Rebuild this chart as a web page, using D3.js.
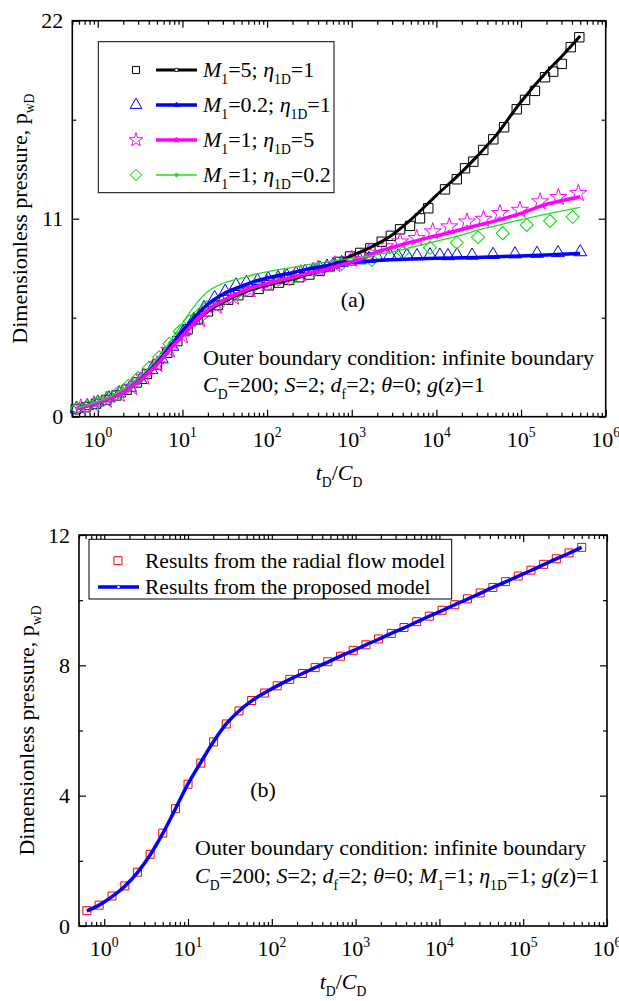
<!DOCTYPE html>
<html>
<head>
<meta charset="utf-8">
<script src="https://cdn.jsdelivr.net/npm/d3@7"></script>
<style>
  body { margin: 0; background: #fff; }
  svg { font-family: "Liberation Serif", "Times New Roman", serif; }
</style>
</head>
<body>
<div id="chart"></div>
<script>
// ---- panel (a): model lines, all on one time grid ----
var lineT = [0.55, 0.7, 1, 1.5, 2, 3, 4, 5, 7, 10, 15, 20, 30, 50, 70, 100, 200, 300, 500, 700,
  1000, 1500, 2000, 3000, 5000, 1e4, 2e4, 3e4, 5e4, 1e5, 2e5, 3e5, 5e5];
var blackLine = [0.42, 0.55, 0.78, 1.08, 1.36, 1.95, 2.45, 2.9, 3.7, 4.5, 5.35, 5.85, 6.35, 6.85, 7.1, 7.3, 7.65, 7.9, 8.3, 8.6,
  8.95, 9.3, 9.6, 10.1, 10.95, 12.3, 13.6, 14.45, 15.6, 17.5, 19.15, 20.0, 21.15];
var blueLine = [0.44, 0.57, 0.8, 1.12, 1.42, 2.02, 2.55, 3.0, 3.85, 4.75, 5.7, 6.25, 6.8, 7.25, 7.5, 7.7, 8.0, 8.2, 8.38, 8.5,
  8.58, 8.64, 8.68, 8.72, 8.76, 8.8, 8.83, 8.85, 8.88, 8.93, 8.98, 9.02, 9.07];
var magentaLine = [0.42, 0.55, 0.78, 1.08, 1.36, 1.95, 2.45, 2.9, 3.7, 4.5, 5.4, 5.95, 6.45, 6.95, 7.2, 7.4, 7.75, 7.95, 8.2, 8.4,
  8.6, 8.9, 9.15, 9.4, 9.7, 10.05, 10.4, 10.62, 10.88, 11.3, 11.8, 12.0, 12.22];
var greenLine = [0.46, 0.6, 0.85, 1.2, 1.52, 2.15, 2.7, 3.2, 4.1, 5.2, 6.35, 6.95, 7.4, 7.7, 7.9, 8.05, 8.3, 8.45, 8.6, 8.7,
  8.8, 8.9, 9.0, 9.15, 9.4, 9.75, 10.1, 10.35, 10.6, 10.95, 11.25, 11.42, 11.63];

// ---- panel (a): comparison points ----
var sqT = [0.55, 0.72, 0.95, 1.26, 1.66, 2.19, 2.88, 3.8, 5.0, 6.6, 8.7, 11.5, 15.1, 20, 26.3, 34.7, 45.7, 60.3, 79.4, 105,
  138, 182, 240, 316, 417, 550, 724, 955, 1260, 1660, 2260, 2900, 3720, 4880, 6400, 8020, 12650, 17400, 21800, 27300,
  35800, 47000, 63000, 88900, 111400, 146000, 192000, 240000, 302000, 386000, 488000];
var sqV = [0.42, 0.53, 0.72, 0.93, 1.18, 1.5, 1.9, 2.37, 2.9, 3.55, 4.2, 4.85, 5.4, 5.85, 6.2, 6.5, 6.75, 6.95, 7.1, 7.3,
  7.45, 7.6, 7.75, 7.9, 8.1, 8.35, 8.6, 8.9, 9.1, 9.35, 9.72, 10.05, 10.41, 10.6, 11.02, 11.58, 12.63, 13.19, 13.8, 14.17,
  14.82, 15.41, 16.08, 17.08, 17.6, 18.1, 18.86, 19.17, 19.6, 20.53, 21.08];
var triT = [0.56, 0.75, 1.0, 1.35, 1.8, 2.4, 3.2, 4.3, 5.7, 7.6, 10.2, 13.6, 18, 24, 32, 43, 57, 77, 103, 135,
  171, 220, 281, 350, 422, 510, 606, 760, 955, 1250, 1600, 2000, 2830, 3520, 4500, 5900, 8400, 11000, 13700, 17500,
  26400, 46700, 84900, 154500, 273600, 500000];
var triV = [0.46, 0.6, 0.8, 1.03, 1.3, 1.62, 2.05, 2.6, 3.2, 3.9, 4.7, 5.4, 6.05, 6.6, 6.95, 7.3, 7.45, 7.55, 7.65, 7.72,
  7.82, 7.95, 8.06, 8.15, 8.24, 8.35, 8.45, 8.55, 8.63, 8.7, 8.78, 8.85, 8.95, 8.92, 8.96, 8.93, 8.98, 8.96, 8.93, 8.98,
  8.96, 9.0, 9.03, 9.06, 9.1, 9.15];
var starT = [0.63, 0.9, 1.26, 1.8, 2.5, 3.5, 5, 7, 10, 16, 25, 40, 63, 100, 160, 250, 400, 630, 1000, 1580,
  2470, 3720, 5860, 9060, 14200, 23000, 36000, 56500, 97000, 168000, 276000, 475000];
var starV = [0.5, 0.68, 0.93, 1.25, 1.65, 2.2, 2.9, 3.7, 4.5, 5.4, 6.15, 6.65, 7.05, 7.4, 7.7, 7.95, 8.2, 8.45, 8.75, 9.1,
  9.45, 9.72, 9.91, 10.28, 10.56, 10.83, 10.98, 11.3, 11.48, 11.95, 12.19, 12.41];
var diaT = [0.57, 0.75, 1.0, 1.3, 1.75, 2.3, 3.0, 4.0, 5.3, 7.0, 9.3, 12.2, 15.4, 19.4, 29, 44, 72, 135, 204, 368,
  760, 1720, 4000, 8400, 17400, 31000, 60700, 117000, 220000, 407000];
var diaV = [0.47, 0.6, 0.8, 1.02, 1.35, 1.72, 2.15, 2.7, 3.3, 4.05, 4.75, 5.3, 5.65, 6.08, 6.39, 6.86, 7.32, 7.63, 7.74, 8.15,
  8.48, 8.7, 9.13, 9.39, 9.67, 9.97, 10.19, 10.65, 10.87, 11.1];

// ---- panel (b) ----
var bT = [0.62, 0.87, 1.24, 1.76, 2.49, 3.53, 5.0, 7.09, 10.0, 14.2, 20.2, 28.6, 40.6, 57.5, 81.5, 116, 164, 232, 329, 466,
  661, 937, 1327, 1882, 2667, 3780, 5358, 7595, 10770, 15260, 21630, 30660, 43450, 61590, 87300, 123700, 175400, 248600, 352400, 498900];
var radialV = [0.47, 0.64, 0.92, 1.23, 1.65, 2.2, 2.85, 3.6, 4.35, 5.0, 5.65, 6.2, 6.6, 6.92, 7.15, 7.37, 7.57, 7.75, 7.93, 8.11,
  8.28, 8.46, 8.63, 8.81, 8.98, 9.16, 9.34, 9.51, 9.69, 9.86, 10.04, 10.22, 10.39, 10.57, 10.74, 10.92, 11.1, 11.27, 11.45, 11.62];
var proposedV = [0.46, 0.64, 0.9, 1.22, 1.64, 2.18, 2.84, 3.6, 4.36, 5.02, 5.66, 6.2, 6.6, 6.91, 7.15, 7.37, 7.57, 7.75, 7.93, 8.1,
  8.28, 8.45, 8.63, 8.8, 8.98, 9.15, 9.33, 9.51, 9.68, 9.86, 10.03, 10.21, 10.39, 10.56, 10.74, 10.91, 11.09, 11.27, 11.44, 11.62];

var xMajor = [1, 10, 100, 1000, 1e4, 1e5, 1e6];
var xExp = ["0", "1", "2", "3", "4", "5", "6"];

var svgWidth = 619, svgHeight = 1001;
var svg = d3.select("#chart").append("svg")
  .attr("width", svgWidth)
  .attr("height", svgHeight);

// text with italic / subscript / superscript pieces
function richText(g, x, y, size, parts, anchor) {
  var t = g.append("text")
    .attr("x", x).attr("y", y)
    .attr("font-size", size)
    .attr("text-anchor", anchor || "start")
    .style("white-space", "pre");
  var shift = 0;
  parts.forEach(function(p) {
    var s = t.append("tspan").text(p[0]);
    var want = p[1] == "s" ? 0.32 * size : (p[1] == "u" ? -0.42 * size : 0);
    if (want != shift) { s.attr("dy", want - shift); shift = want; }
    if (p[1] == "i") s.attr("font-style", "italic");
    if (p[1] == "s" || p[1] == "u") s.attr("font-size", size * 0.62);
  });
  return t;
}

function drawPanel(p) {
  var x = d3.scaleLog().domain([0.5, 1e6]).range([p.left, p.right]);
  var y = d3.scaleLinear().domain([0, p.yMax]).range([p.bottom, p.top]);
  var g = svg.append("g");

  var minor = x.ticks().filter(d => xMajor.indexOf(d) < 0);

  g.append("g").attr("transform", `translate(0,${p.bottom})`)
    .call(d3.axisBottom(x).tickValues(minor).tickSize(-4).tickFormat(""));
  g.append("g").attr("transform", `translate(0,${p.bottom})`)
    .call(d3.axisBottom(x).tickValues(xMajor).tickSize(-7).tickFormat(""));
  g.append("g").attr("transform", `translate(0,${p.top})`)
    .call(d3.axisTop(x).tickValues(minor).tickSize(-4).tickFormat(""));
  g.append("g").attr("transform", `translate(0,${p.top})`)
    .call(d3.axisTop(x).tickValues(xMajor).tickSize(-7).tickFormat(""));

  g.append("g").attr("transform", `translate(${p.left},0)`)
    .call(d3.axisLeft(y).tickValues(p.yMinor).tickSize(-4).tickFormat(""));
  g.append("g").attr("transform", `translate(${p.left},0)`)
    .call(d3.axisLeft(y).tickValues(p.yLabels).tickSize(-7).tickPadding(9).tickFormat(d3.format("d")));
  g.append("g").attr("transform", `translate(${p.right},0)`)
    .call(d3.axisRight(y).tickValues(p.yMinor).tickSize(-4).tickFormat(""));
  g.append("g").attr("transform", `translate(${p.right},0)`)
    .call(d3.axisRight(y).tickValues(p.yLabels).tickSize(-7).tickFormat(""));

  g.selectAll(".domain").remove();
  g.selectAll(".tick line").attr("stroke", "#000").attr("stroke-width", 1.2);
  g.selectAll(".tick text")
    .attr("font-family", "Liberation Serif, Times New Roman, serif")
    .attr("font-size", 22).attr("fill", "#000");

  g.append("rect")
    .attr("x", p.left).attr("y", p.top)
    .attr("width", p.right - p.left).attr("height", p.bottom - p.top)
    .attr("fill", "none").attr("stroke", "#000").attr("stroke-width", 1.6);

  xMajor.forEach(function(d, i) {
    richText(g, x(d), p.bottom + 30, 22, [["10", "n"], [xExp[i], "u"]], "middle");
  });

  richText(g, (p.left + p.right) / 2, p.bottom + 63, 22,
    [["t", "i"], ["D", "s"], ["/", "n"], ["C", "i"], ["D", "s"]], "middle");

  var yt = g.append("g").attr("transform", `translate(${p.left - 45},${(p.top + p.bottom) / 2}) rotate(-90)`);
  richText(yt, 0, 0, 22, [["Dimensionless pressure, p", "n"], ["wD", "s"]], "middle");

  return { g: g, x: x, y: y };
}

function drawPoints(panel, ts, vs, shape, size, color, rotate) {
  var sym = d3.symbol().type(shape).size(size);
  panel.g.append("g").selectAll("path")
    .data(ts)
    .join("path")
    .attr("d", sym)
    .attr("transform", (d, i) => `translate(${panel.x(d)},${panel.y(vs[i])})` + (rotate ? " rotate(45)" : ""))
    .attr("fill", "none")
    .attr("stroke", color)
    .attr("stroke-width", 1);
}

function drawLine(panel, ts, vs, color, width) {
  var line = d3.line()
    .x(d => panel.x(d))
    .y((d, i) => panel.y(vs[i]))
    .curve(d3.curveMonotoneX);
  panel.g.append("path")
    .datum(ts)
    .attr("d", line)
    .attr("fill", "none")
    .attr("stroke", color)
    .attr("stroke-width", width);
}

// ================= panel (a) =================
var pa = drawPanel({ left: 72.3, right: 605.7, top: 20.7, bottom: 416.7, yMax: 22,
  yLabels: [0, 11, 22], yMinor: [5.5, 16.5] });

drawPoints(pa, sqT, sqV, d3.symbolSquare, 88, "#000");
drawPoints(pa, triT, triV, d3.symbolTriangle, 72, "#0000ff");
drawPoints(pa, starT, starV, d3.symbolStar, 90, "#ff00ff");
drawPoints(pa, diaT, diaV, d3.symbolSquare, 84, "#00dd00", true);

drawLine(pa, lineT, blackLine, "#000", 3);
drawLine(pa, lineT, blueLine, "#0000ff", 3.5);
drawLine(pa, lineT, magentaLine, "#ff00ff", 3.5);
drawLine(pa, lineT, greenLine, "#22dd22", 1.3);

// legend (a)
var legA = pa.g.append("g");
legA.append("rect").attr("x", 98.3).attr("y", 41.7).attr("width", 235.7).attr("height", 151)
  .attr("fill", "#fff").attr("stroke", "#000").attr("stroke-width", 1);
var legRows = [
  { color: "#000", shape: d3.symbolSquare, mk: 50, lw: 3, tiny: d3.symbolSquare, tinyFill: "#fff",
    text: [["M", "i"], ["1", "s"], ["=5; ", "n"], ["η", "i"], ["1D", "s"], ["=1", "n"]] },
  { color: "#0000ff", shape: d3.symbolTriangle, mk: 60, lw: 3.5, tiny: d3.symbolTriangle, tinyFill: "#0000ff",
    text: [["M", "i"], ["1", "s"], ["=0.2; ", "n"], ["η", "i"], ["1D", "s"], ["=1", "n"]] },
  { color: "#ff00ff", shape: d3.symbolStar, mk: 60, lw: 3.5, tiny: d3.symbolStar, tinyFill: "#ff00ff",
    text: [["M", "i"], ["1", "s"], ["=1; ", "n"], ["η", "i"], ["1D", "s"], ["=5", "n"]] },
  { color: "#22dd22", shape: d3.symbolSquare, mk: 64, lw: 1.3, tiny: d3.symbolCircle, tinyFill: "#22dd22", rot: true,
    text: [["M", "i"], ["1", "s"], ["=1; ", "n"], ["η", "i"], ["1D", "s"], ["=0.2", "n"]] }
];
legRows.forEach(function(r, i) {
  var cy = 70 + i * 35;
  legA.append("path").attr("d", d3.symbol().type(r.shape).size(r.mk))
    .attr("transform", `translate(136,${cy})` + (r.rot ? " rotate(45)" : ""))
    .attr("fill", "none").attr("stroke", r.color).attr("stroke-width", 1);
  legA.append("line").attr("x1", 156).attr("x2", 197).attr("y1", cy).attr("y2", cy)
    .attr("stroke", r.color).attr("stroke-width", r.lw);
  legA.append("path").attr("d", d3.symbol().type(r.tiny).size(10))
    .attr("transform", `translate(176.5,${cy})`)
    .attr("fill", r.tinyFill).attr("stroke", r.color).attr("stroke-width", 0.8);
  richText(legA, 203, cy + 7, 22, r.text);
});

richText(pa.g, 353, 307, 22, [["(a)", "n"]], "middle");
richText(pa.g, 203, 365, 22, [["Outer boundary condition: infinite boundary", "n"]]);
richText(pa.g, 203, 392, 22, [["C", "i"], ["D", "s"], ["=200; ", "n"], ["S", "i"], ["=2; ", "n"],
  ["d", "i"], ["f", "s"], ["=2; ", "n"], ["θ", "i"], ["=0; ", "n"], ["g", "i"], ["(", "n"], ["z", "i"], [")=1", "n"]]);

// ================= panel (b) =================
var pb = drawPanel({ left: 79, right: 607, top: 535, bottom: 926, yMax: 12,
  yLabels: [0, 4, 8, 12], yMinor: [2, 6, 10] });

drawPoints(pb, bT, radialV, d3.symbolSquare, 64, "#ff0000");
drawLine(pb, bT, proposedV, "#0000ff", 3.5);

var legB = pb.g.append("g");
legB.append("rect").attr("x", 89).attr("y", 539.3).attr("width", 362.7).attr("height", 59.7)
  .attr("fill", "#fff").attr("stroke", "#000").attr("stroke-width", 1);
legB.append("path").attr("d", d3.symbol().type(d3.symbolSquare).size(64))
  .attr("transform", "translate(118,560.7)")
  .attr("fill", "none").attr("stroke", "#ff0000").attr("stroke-width", 1);
richText(legB, 145, 567.7, 21.5, [["Results from the radial flow model", "n"]]);
legB.append("line").attr("x1", 98).attr("x2", 139).attr("y1", 587).attr("y2", 587)
  .attr("stroke", "#0000ff").attr("stroke-width", 3.5);
legB.append("path").attr("d", d3.symbol().type(d3.symbolCircle).size(10))
  .attr("transform", "translate(118.5,587)")
  .attr("fill", "#fff").attr("stroke", "#0000ff").attr("stroke-width", 0.8);
richText(legB, 145, 594, 21.5, [["Results from the proposed model", "n"]]);

richText(pb.g, 263, 797, 22, [["(b)", "n"]], "middle");
richText(pb.g, 195, 855, 22, [["Outer boundary condition: infinite boundary", "n"]]);
richText(pb.g, 195, 883, 22, [["C", "i"], ["D", "s"], ["=200; ", "n"], ["S", "i"], ["=2; ", "n"],
  ["d", "i"], ["f", "s"], ["=2; ", "n"], ["θ", "i"], ["=0; ", "n"], ["M", "i"], ["1", "s"], ["=1; ", "n"],
  ["η", "i"], ["1D", "s"], ["=1; ", "n"], ["g", "i"], ["(", "n"], ["z", "i"], [")=1", "n"]]);
</script>
</body>
</html>
